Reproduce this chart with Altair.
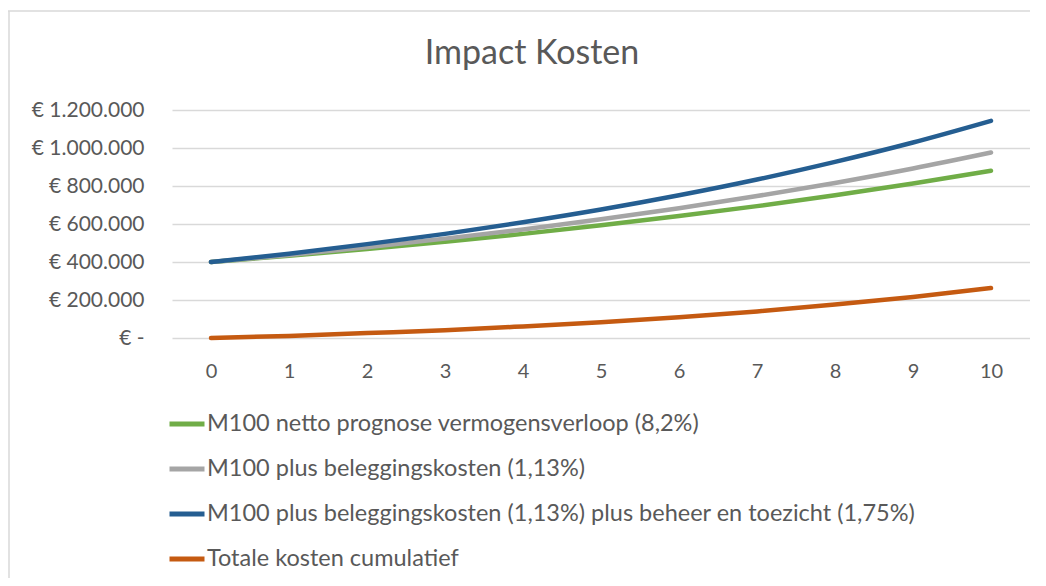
import altair as alt
import pandas as pd

years = list(range(11))
green = [400000, 433000, 468000, 507000, 548000, 593000, 642000, 694000, 751000, 813000, 880000]
gray = [400000, 437000, 478000, 523000, 571000, 625000, 683000, 747000, 816000, 892000, 976000]
blue = [400000, 444000, 494000, 548000, 609000, 676000, 751000, 834000, 927000, 1029000, 1143000]
orange = [0, 11000, 26000, 41000, 61000, 83000, 109000, 140000, 176000, 216000, 263000]

series_names = [
    "M100 netto prognose vermogensverloop (8,2%)",
    "M100 plus beleggingskosten (1,13%)",
    "M100 plus beleggingskosten (1,13%) plus beheer en toezicht (1,75%)",
    "Totale kosten cumulatief",
]
series_colors = ["#70AD47", "#A5A5A5", "#255E91", "#C55A11"]

rows = []
for name, vals in zip(series_names, [green, gray, blue, orange]):
    for x, v in zip(years, vals):
        rows.append({"jaar": x, "waarde": v, "reeks": name})
df = pd.DataFrame(rows)

FONT = "Lato"
TXT = "#595959"
W, H = 858, 228

lines = alt.Chart(df).mark_line(strokeWidth=4.5, strokeCap="round", strokeJoin="round", interpolate="monotone").encode(
    x=alt.X("jaar:O", scale=alt.Scale(type="point", padding=0.5),
            axis=alt.Axis(title=None, labelAngle=0, ticks=False, domain=False, grid=False,
                          labelFontSize=20, labelColor=TXT, labelFont=FONT, labelPadding=23)),
    y=alt.Y("waarde:Q", scale=alt.Scale(domain=[0, 1200000], nice=False),
            axis=alt.Axis(title=None, values=[0, 200000, 400000, 600000, 800000, 1000000, 1200000],
                          ticks=False, domain=False, gridColor="#D9D9D9", gridWidth=1.5,
                          labelFontSize=21, labelColor=TXT, labelFont=FONT, labelPadding=28,
                          labelExpr="datum.value == 0 ? '€ -' : '€ ' + replace(format(datum.value, ',.0f'), regexp(',', 'g'), '.')")),
    color=alt.Color("reeks:N", scale=alt.Scale(domain=series_names, range=series_colors),
                    legend=alt.Legend(title=None, orient="none", legendX=-5, legendY=294, direction="vertical",
                                      symbolType="stroke", symbolSize=1225, symbolStrokeWidth=5,
                                      labelFontSize=23.5, labelColor=TXT, labelFont=FONT, labelOffset=0,
                                      rowPadding=13, labelLimit=1000)),
    order=alt.Order("jaar:O"),
)

border_df = pd.DataFrame({"a": [0]})
top_border = alt.Chart(border_df).mark_rule(color="#D9D9D9", strokeWidth=1.5).encode(
    x=alt.value(-164), x2=alt.value(858), y=alt.value(-99))
left_border = alt.Chart(border_df).mark_rule(color="#D9D9D9", strokeWidth=1.5).encode(
    x=alt.value(-163), y=alt.value(-99), y2=alt.value(476))

chart = alt.layer(top_border, left_border, lines).properties(
    width=W, height=H,
    autosize=alt.AutoSizeParams(type="none"),
    padding={"left": 164, "top": 102, "right": 0, "bottom": 240},
    title=alt.TitleParams("Impact Kosten", fontSize=34, font=FONT, color=TXT, fontWeight="normal",
                          anchor="middle", frame="group", dx=-69, offset=-61),
).configure_view(stroke=None)

chart.save("out.html", embed_options={"renderer": "svg", "actions": False})
